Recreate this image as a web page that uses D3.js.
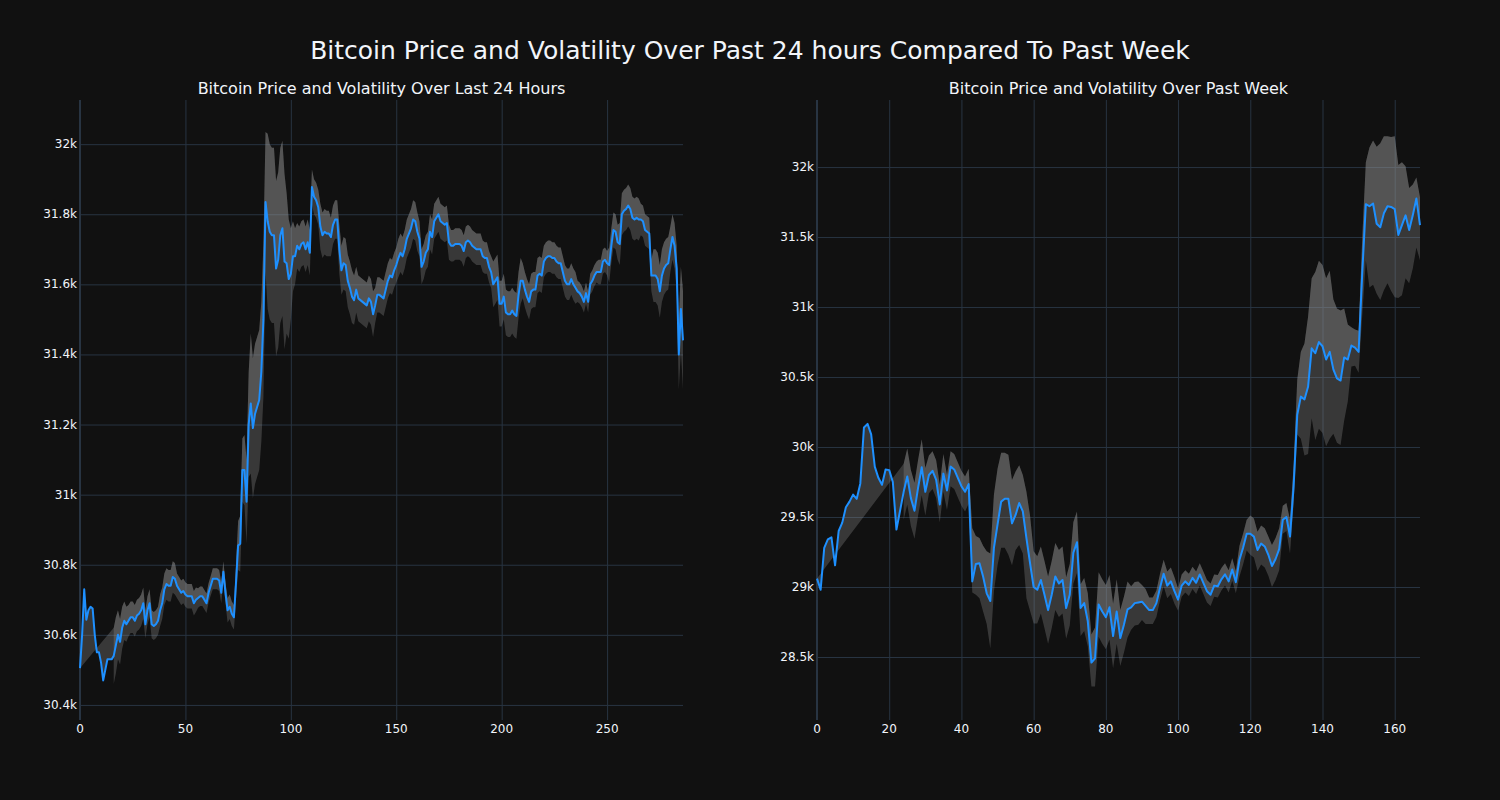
<!DOCTYPE html>
<html>
<head>
<meta charset="utf-8">
<script src="https://cdn.jsdelivr.net/npm/d3@7"></script>
<style>
  html, body { margin: 0; padding: 0; background: #111111; }
  svg { display: block; }
  text { font-family: "DejaVu Sans", Verdana, sans-serif; fill: #f2f5fa; }
</style>
</head>
<body>
<svg id="chart" width="1500" height="800"></svg>
<script>
// ---------------- DATA ----------------
const chartTitle = "Bitcoin Price and Volatility Over Past 24 hours Compared To Past Week";
const dayTitle = "Bitcoin Price and Volatility Over Last 24 Hours";
const weekTitle = "Bitcoin Price and Volatility Over Past Week";

// last 24 hours, 5-minute steps (index 0..286), USD
const dayPrice = [
30505,30600,30730,30643,30670,30680,30675,30600,30550,30550,
30520,30470,30500,30530,30530,30530,30540,30570,30600,30580,
30620,30640,30630,30640,30650,30650,30640,30655,30660,30670,
30690,30630,30670,30690,30630,30625,30630,30640,30670,30690,
30730,30745,30740,30740,30765,30760,30740,30730,30720,30725,
30715,30710,30710,30710,30690,30700,30705,30710,30710,30700,
30690,30720,30740,30760,30760,30760,30755,30720,30780,30720,
30670,30680,30660,30650,30750,30855,30860,31070,31070,30980,
31200,31260,31190,31230,31250,31270,31350,31500,31835,31780,
31750,31740,31740,31645,31670,31740,31760,31665,31660,31615,
31630,31680,31680,31710,31700,31715,31720,31700,31720,31690,
31878,31850,31840,31820,31765,31740,31750,31745,31745,31735,
31770,31785,31785,31700,31640,31660,31655,31610,31590,31565,
31555,31585,31560,31555,31550,31545,31540,31560,31550,31515,
31540,31570,31570,31565,31560,31585,31610,31625,31620,31640,
31655,31675,31690,31680,31700,31730,31745,31760,31785,31780,
31750,31730,31650,31665,31690,31700,31750,31735,31780,31790,
31800,31780,31775,31770,31775,31720,31710,31710,31715,31715,
31715,31710,31695,31720,31725,31720,31710,31705,31700,31700,
31700,31680,31675,31675,31650,31635,31600,31610,31620,31545,
31545,31565,31520,31515,31515,31525,31515,31510,31570,31610,
31610,31585,31565,31550,31580,31585,31585,31625,31630,31625,
31665,31675,31680,31680,31675,31675,31665,31660,31660,31635,
31610,31600,31600,31615,31600,31590,31580,31575,31565,31550,
31575,31550,31600,31610,31625,31635,31635,31635,31665,31670,
31660,31655,31710,31755,31750,31720,31715,31800,31810,31815,
31825,31815,31790,31785,31790,31785,31785,31780,31755,31750,
31745,31625,31625,31625,31615,31580,31625,31645,31655,31660,
31700,31735,31710,31645,31400,31530,31440
];
// half width of the volatility band (USD), null before the rolling window fills
const dayVolatility = [
null,null,null,null,null,null,null,null,null,null,
null,null,null,null,null,null,80,80,70,65,
60,55,50,45,45,45,45,45,45,45,
45,40,40,40,40,40,40,40,45,45,
45,45,45,45,45,45,35,35,35,35,
35,35,35,35,35,35,28,28,28,28,
28,28,28,30,30,30,30,30,30,30,
35,35,35,35,50,70,80,90,100,120,
150,200,200,200,200,200,200,220,200,250,
250,250,250,250,250,250,250,250,200,170,
130,100,80,65,65,65,65,65,65,65,
50,50,50,50,65,65,65,65,65,55,
55,55,55,70,70,75,75,75,75,75,
70,65,65,65,65,65,65,65,65,65,
50,50,50,50,50,50,50,50,50,50,
50,55,55,55,55,55,55,55,55,55,
55,50,50,50,50,50,50,50,50,50,
50,50,50,50,50,50,45,45,45,45,
45,45,45,45,45,45,45,45,45,45,
45,45,45,45,45,45,65,65,65,65,
65,65,65,65,65,65,65,65,65,65,
50,50,50,50,50,50,50,50,50,50,
45,45,45,45,45,45,45,45,45,45,
45,45,45,45,45,45,30,30,30,30,
30,30,30,30,30,30,35,35,35,35,
35,50,50,50,50,50,60,60,60,60,
60,60,60,60,60,60,45,45,45,45,
45,45,75,75,75,75,75,75,75,75,
65,65,65,65,100,120,140
];

// past week, hourly steps (index 0..167), USD
const weekPrice = [
29060,28980,29280,29340,29355,29155,29400,29460,29570,29610,
29660,29630,29740,30140,30165,30090,29860,29780,29730,29840,
29835,29750,29410,29545,29680,29790,29635,29545,29710,29855,
29680,29800,29830,29765,29590,29810,29690,29860,29840,29780,
29720,29680,29735,29040,29165,29170,29075,28955,28900,29280,
29445,29610,29630,29630,29455,29515,29600,29540,29350,29170,
29000,28980,29050,28945,28835,28945,29075,29025,29050,28850,
28945,29245,29320,28850,28885,28755,28460,28490,28875,28825,
28785,28855,28650,28825,28635,28730,28840,28855,28885,28890,
28895,28865,28835,28835,28885,28995,29095,29010,29040,28970,
28910,29010,29040,29015,29065,29030,29090,29030,28970,28945,
29010,29005,29055,29090,29040,29125,29035,29195,29280,29380,
29380,29360,29265,29310,29290,29230,29150,29200,29270,29480,
29500,29360,29720,30230,30360,30340,30430,30705,30670,30750,
30720,30625,30680,30555,30490,30475,30640,30625,30725,30710,
30680,31240,31735,31720,31740,31595,31570,31670,31720,31715,
31700,31515,31585,31655,31550,31655,31775,31585
];
// band extent above / below the price (USD), null before the rolling window fills
const weekVolatilityUp = [
null,null,null,null,null,null,null,null,null,null,
null,null,null,null,null,null,null,null,null,null,
null,null,null,null,200,200,200,200,200,200,
170,140,140,140,140,140,110,110,110,110,
110,110,110,380,200,180,220,300,340,380,
400,350,330,315,310,310,270,260,330,340,
255,240,240,240,240,240,240,240,240,220,
220,220,220,170,180,200,200,220,230,230,
230,230,230,230,200,200,200,150,150,150,
120,120,90,90,90,100,100,100,100,100,
80,80,80,80,80,80,80,80,80,80,
80,80,80,80,80,80,80,100,100,100,
130,130,130,130,130,130,150,150,150,100,
100,120,150,250,320,400,500,500,580,580,
580,580,580,500,500,500,350,250,130,130,
150,250,300,420,450,550,600,550,500,500,
520,500,450,350,300,220,150,200
];
const weekVolatilityDown = [
null,null,null,null,null,null,null,null,null,null,
null,null,null,null,null,null,null,null,null,null,
null,null,null,null,200,200,200,200,200,200,
170,130,130,130,130,130,140,140,140,140,
140,140,140,80,220,250,250,220,340,310,
290,330,350,400,300,250,300,300,430,340,
260,240,240,240,240,240,240,240,240,220,
220,220,220,200,200,180,170,200,230,230,
230,230,230,230,200,200,200,160,160,160,
130,130,100,100,100,90,90,90,90,90,
80,80,80,80,80,80,80,80,80,80,
80,80,80,80,80,80,80,120,120,120,
150,150,150,150,150,150,150,150,150,100,
100,120,120,140,300,400,480,500,620,620,
620,620,620,460,460,460,450,300,150,130,
150,300,400,580,580,500,520,550,550,600,
630,450,500,450,380,380,350,250
];

const dayXTicks = [0, 50, 100, 150, 200, 250];
const dayYTicks = [30400, 30600, 30800, 31000, 31200, 31400, 31600, 31800, 32000];
const weekXTicks = [0, 20, 40, 60, 80, 100, 120, 140, 160];
const weekYTicks = [28500, 29000, 29500, 30000, 30500, 31000, 31500, 32000];

// ---------------- DRAW ----------------
const svg = d3.select("#chart");
svg.append("rect").attr("width", 1500).attr("height", 800).attr("fill", "#111111");

const GRID = "#283442";
const LINE = "#1e90ff";
const BAND = "rgba(150,150,150,0.30)";
const plotTop = 100, plotBottom = 720;

svg.append("text")
  .attr("x", 750).attr("y", 59)
  .attr("text-anchor", "middle")
  .style("font-size", "25px")
  .text(chartTitle);

function panel(opts) {
  const { price, up, down, left, right, yDomain, xTicks, yTicks, title } = opts;
  const n = price.length;
  const x = d3.scaleLinear().domain([0, n - 1]).range([left, right]);
  const y = d3.scaleLinear().domain(yDomain).range([plotBottom, plotTop]);
  const g = svg.append("g");

  // grid
  const gx = g.append("g")
    .attr("transform", `translate(0,${plotTop})`)
    .call(d3.axisBottom(x).tickValues(xTicks.filter(t => t !== 0))
      .tickSize(plotBottom - plotTop).tickFormat(""));
  gx.select(".domain").remove();
  gx.selectAll("line").attr("stroke", GRID).attr("stroke-width", 1);

  const gy = g.append("g")
    .attr("transform", `translate(${left},0)`)
    .call(d3.axisRight(y).tickValues(yTicks).tickSize(right - left).tickFormat(""));
  gy.select(".domain").remove();
  gy.selectAll("line").attr("stroke", GRID).attr("stroke-width", 1);

  // zero line at x = 0
  g.append("line")
    .attr("x1", x(0)).attr("x2", x(0))
    .attr("y1", plotTop).attr("y2", plotBottom)
    .attr("stroke", GRID).attr("stroke-width", 2);

  // band
  const idx = d3.range(n).filter(i => up[i] != null);
  const upperPts = idx.map(i => [x(i), y(price[i] + up[i])]);
  const lowerPts = idx.map(i => [x(i), y(price[i] - down[i])]);
  const line = d3.line();
  g.append("path")
    .attr("d", line(upperPts.concat(lowerPts.slice().reverse())) + "Z")
    .attr("fill", BAND);
  const pricePts = d3.range(n).map(i => [x(i), y(price[i])]);
  g.append("path")
    .attr("d", line(pricePts.concat(upperPts.slice().reverse())) + "Z")
    .attr("fill", BAND);

  // price line
  g.append("path")
    .attr("d", line(pricePts))
    .attr("fill", "none")
    .attr("stroke", LINE)
    .attr("stroke-width", 2)
    .attr("stroke-linejoin", "round");

  // tick labels
  const fmt = d3.format("~s");
  g.selectAll(".yl").data(yTicks).enter().append("text")
    .attr("x", left - 3).attr("y", d => y(d) + 4)
    .attr("text-anchor", "end")
    .style("font-size", "12px")
    .text(d => fmt(d));
  g.selectAll(".xl").data(xTicks).enter().append("text")
    .attr("x", d => x(d)).attr("y", plotBottom + 13)
    .attr("text-anchor", "middle")
    .style("font-size", "12px")
    .text(d => d);

  // subplot title
  g.append("text")
    .attr("x", (left + right) / 2).attr("y", 94)
    .attr("text-anchor", "middle")
    .style("font-size", "16px")
    .text(title);
}

panel({
  price: dayPrice, up: dayVolatility, down: dayVolatility,
  left: 80, right: 683, yDomain: [30357, 32126],
  xTicks: dayXTicks, yTicks: dayYTicks, title: dayTitle
});
panel({
  price: weekPrice, up: weekVolatilityUp, down: weekVolatilityDown,
  left: 817, right: 1420, yDomain: [28050, 32479],
  xTicks: weekXTicks, yTicks: weekYTicks, title: weekTitle
});
</script>
</body>
</html>
